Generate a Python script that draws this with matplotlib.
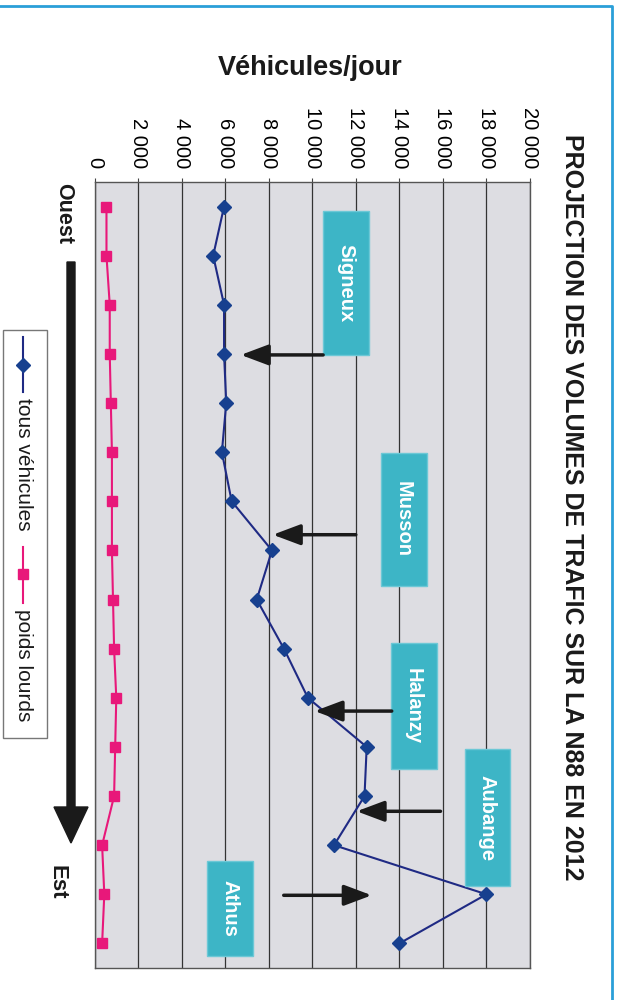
import matplotlib
matplotlib.use('Agg')
import matplotlib.pyplot as plt
import matplotlib.patches as mpatches

plt.rcParams['font.family'] = ['Liberation Sans', 'DejaVu Sans']

# Données (véhicules/jour), de l'ouest vers l'est
points = list(range(16))
tous_vehicules = [5950, 5450, 5950, 5950, 6050, 5850, 6300, 8150,
                  7450, 8700, 9800, 12500, 12400, 11000, 18000, 14000]
poids_lourds = [550, 550, 700, 700, 750, 800, 800, 800,
                850, 900, 1000, 950, 900, 350, 450, 350]
ticks = list(range(0, 20001, 2000))
tick_labels = ['{:,}'.format(t).replace(',', ' ') for t in ticks]

# Localités : (nom, boîte x0, x1, y0, y1, flèche y, départ, pointe)
localites = [
    ('Signeux', 10500, 12600, 0.10, 3.02, 3.02, 10500, 6720),
    ('Musson', 13140, 15250, 5.01, 7.72, 6.68, 12000, 8190),
    ('Halanzy', 13600, 15710, 8.89, 11.45, 10.27, 13650, 10110),
    ('Aubange', 17000, 19060, 11.05, 13.84, 12.31, 15890, 12040),
    ('Athus', 5160, 7270, 13.33, 15.26, 14.02, 8690, 12730),
]

bleu = '#1f2a84'
rose = '#e8187a'
cyan = '#3db5c6'

fig = plt.figure(figsize=(6.24, 10), dpi=100)
fig.patch.set_facecolor('white')

# Axe principal (graphique pivoté d'un quart de tour)
ax = fig.add_axes([94.5/624, 0.032, (530-94.5)/624, 0.786])
ax.set_facecolor('#dddde2')
ax.set_xlim(0, 20000)
ax.set_ylim(15.5, -0.5)
ax.xaxis.tick_top()
ax.set_xticks(ticks)
ax.set_xticklabels(tick_labels)
ax.tick_params(axis='x', top=True, bottom=False, labeltop=True, labelbottom=False,
               rotation=-90, length=3, pad=7, labelsize=14.5, color='#444')
ax.set_yticks([])
ax.grid(axis='x', color='#333333', lw=0.9)
ax.set_axisbelow(True)
for s in ax.spines.values():
    s.set_color('#555555')
    s.set_linewidth(1)

ax.plot(poids_lourds, points, color=rose, lw=1.5, marker='s', ms=7,
        mfc=rose, mec=rose, zorder=3)
ax.plot(tous_vehicules, points, color=bleu, lw=1.5, marker='D', ms=7,
        mfc='#17408f', mec='#17408f', zorder=4)

for nom, x0, x1, y0, y1, ya, xs, xe in localites:
    ax.add_patch(mpatches.Rectangle((x0, y0), x1 - x0, y1 - y0, facecolor=cyan,
                                    edgecolor='#6cc8d6', lw=1, zorder=5))
    ax.text((x0 + x1) / 2, (y0 + y1) / 2, nom, rotation=-90, ha='center', va='center',
            color='white', fontsize=14.5, fontweight='bold', zorder=6)
    ax.annotate('', xy=(xe, ya), xytext=(xs, ya),
                arrowprops=dict(arrowstyle='-|>,head_length=1.2,head_width=0.45',
                                mutation_scale=14, lw=2.5, color='#1a1a1a',
                                shrinkA=0, shrinkB=0), zorder=6)

# Calque de décor en pixels
ov = fig.add_axes([0, 0, 1, 1], zorder=-1)
ov.set_xlim(0, 624)
ov.set_ylim(1000, 0)
ov.axis('off')

# cadre bleu
ov.plot([0, 612, 612], [6, 6, 1000], color='#2a9fd8', lw=2)

# titres
fig.text(572/624, 1 - 507/1000, 'PROJECTION DES VOLUMES DE TRAFIC SUR LA N88 EN 2012',
         rotation=-90, ha='center', va='center', fontsize=18, fontweight='bold',
         color='#1a1a1a')
fig.text(310/624, 1 - 68/1000, 'Véhicules/jour', ha='center', va='center',
         fontsize=19.5, fontweight='bold', color='#1a1a1a')

# Ouest -> Est
ov.text(64, 183, 'Ouest', rotation=-90, ha='center', va='top', fontsize=15.5,
        fontweight='bold', color='#1a1a1a')
ov.text(57, 865, 'Est', rotation=-90, ha='center', va='top', fontsize=16,
        fontweight='bold', color='#1a1a1a')
ov.add_patch(mpatches.FancyArrow(71, 262, 0, 581, width=8, head_width=34,
                                 head_length=36, length_includes_head=True,
                                 color='#1a1a1a'))

# légende
ov.add_patch(mpatches.Rectangle((3, 330), 44, 408, facecolor='white',
                                edgecolor='#777777', lw=1))
ov.plot([23, 23], [337, 392], color=bleu, lw=1.5)
ov.plot([23], [365], marker='D', ms=7, color='#17408f')
ov.text(23, 398, 'tous véhicules', rotation=-90, ha='center', va='top',
        fontsize=15, color='#1a1a1a')
ov.plot([23, 23], [547, 603], color=rose, lw=1.5)
ov.plot([23], [574], marker='s', ms=7, color=rose)
ov.text(23, 609, 'poids lourds', rotation=-90, ha='center', va='top',
        fontsize=15, color='#1a1a1a')

fig.savefig('out.png', dpi=100)
